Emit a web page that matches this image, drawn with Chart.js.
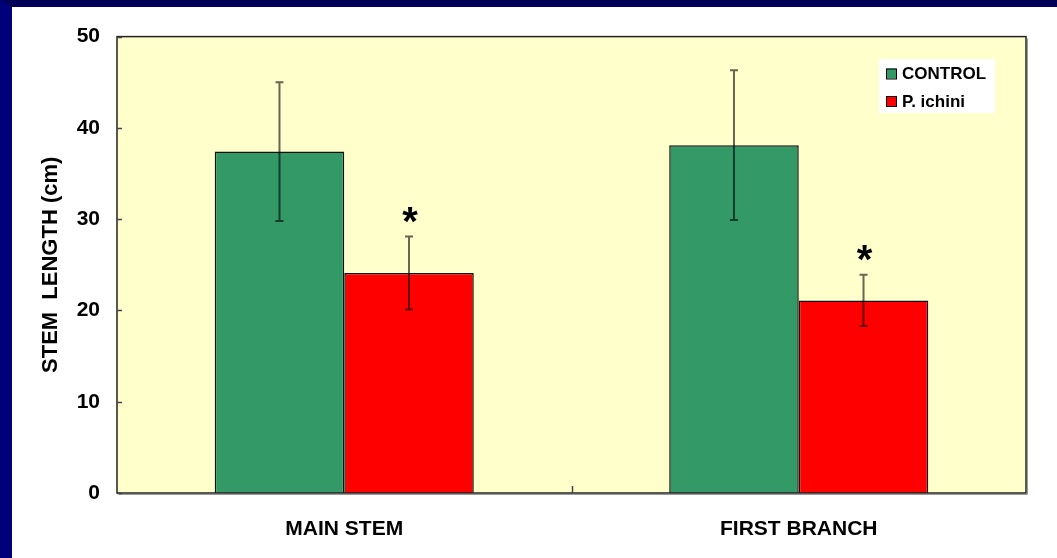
<!DOCTYPE html>
<html>
<head>
<meta charset="utf-8">
<script src="https://cdn.jsdelivr.net/npm/chart.js@4.4.0/dist/chart.umd.min.js"></script>
<style>
  body { margin: 0; background: #fff; }
  #frame {
    position: absolute; left: 0; top: 0;
    width: 1057px; height: 558px; box-sizing: border-box;
    border-top: 7px solid #000058; border-left: 12px solid #000078;
    background: #fff;
  }
  canvas { display: block; }
</style>
</head>
<body>
<div id="frame"><canvas id="stem-chart" width="1045" height="551"></canvas></div>
<script>
const categories = ['MAIN STEM', 'FIRST BRANCH'];
const seriesNames = ['CONTROL', 'P. ichini'];
const controlMeans = [37.4, 38.1];
const controlErrors = [7.6, 8.2];
const ichiniMeans = [24.1, 21.1];
const ichiniErrors = [4.0, 2.8];
const ichiniMarks = ['*', '*'];
const yTicks = [0, 10, 20, 30, 40, 50];

const FONT = '"Liberation Sans", Arial, sans-serif';

// plot background, frame, inside tick marks, error bars, asterisks and legend
const decorations = {
  id: 'decorations',
  beforeDatasetsDraw(chart) {
    const { ctx, chartArea: a } = chart;
    ctx.save();
    ctx.fillStyle = '#FFFFCC';
    ctx.fillRect(a.left, a.top, a.right - a.left, a.bottom - a.top);
    ctx.restore();
  },
  afterDatasetsDraw(chart) {
    const { ctx, chartArea: a, scales } = chart;
    const y = scales.y, x = scales.x;
    ctx.save();

    // error bars
    chart.data.datasets.forEach((ds, i) => {
      const meta = chart.getDatasetMeta(i);
      meta.data.forEach((bar, j) => {
        const top = y.getPixelForValue(ds.data[j] + ds.errors[j]);
        const bot = y.getPixelForValue(ds.data[j] - ds.errors[j]);
        ctx.strokeStyle = 'rgba(0,0,0,0.6)';
        ctx.lineWidth = 2;
        ctx.beginPath();
        ctx.moveTo(bar.x, top); ctx.lineTo(bar.x, bot);
        ctx.moveTo(bar.x - 4, top); ctx.lineTo(bar.x + 4, top);
        ctx.moveTo(bar.x - 4, bot); ctx.lineTo(bar.x + 4, bot);
        ctx.stroke();
        if (ds.marks && ds.marks[j]) {
          ctx.fillStyle = '#000';
          ctx.font = 'bold 40px ' + FONT;
          ctx.textAlign = 'center';
          ctx.textBaseline = 'alphabetic';
          const m = ctx.measureText(ds.marks[j]);
          const cy = top - 22;
          ctx.fillText(ds.marks[j], bar.x + 1,
            cy + (m.actualBoundingBoxAscent - m.actualBoundingBoxDescent) / 2);
        }
      });
    });

    // frame with light shadow
    ctx.strokeStyle = '#999';
    ctx.lineWidth = 1;
    ctx.beginPath();
    ctx.moveTo(a.right + 1.5, a.top + 2); ctx.lineTo(a.right + 1.5, a.bottom + 1.5);
    ctx.lineTo(a.left + 2, a.bottom + 1.5);
    ctx.stroke();
    ctx.strokeStyle = '#222';
    ctx.lineWidth = 1.5;
    ctx.strokeRect(a.left, a.top, a.right - a.left, a.bottom - a.top);

    // inside ticks
    ctx.strokeStyle = '#444';
    ctx.lineWidth = 1.5;
    ctx.beginPath();
    yTicks.forEach(v => {
      const py = Math.round(y.getPixelForValue(v)) + 0.5;
      ctx.moveTo(a.left, py); ctx.lineTo(a.left + 5, py);
    });
    for (let k = 1; k < categories.length; k++) {
      const px = Math.round((x.getPixelForValue(k - 1) + x.getPixelForValue(k)) / 2) + 0.5;
      ctx.moveTo(px, a.bottom); ctx.lineTo(px, a.bottom - 7);
    }
    ctx.stroke();

    // legend
    const lx = 867, ly = 52, lw = 116, lh = 54;
    ctx.fillStyle = '#fff';
    ctx.fillRect(lx, ly, lw, lh);
    ctx.font = 'bold 17px ' + FONT;
    ctx.textAlign = 'left';
    ctx.textBaseline = 'middle';
    chart.data.datasets.forEach((ds, i) => {
      const cy = ly + 14.5 + i * 27.5;
      ctx.fillStyle = ds.backgroundColor;
      ctx.fillRect(lx + 7, cy - 5, 10, 10);
      ctx.strokeStyle = '#000';
      ctx.lineWidth = 1;
      ctx.strokeRect(lx + 7.5, cy - 4.5, 10, 10);
      ctx.fillStyle = '#000';
      ctx.fillText(ds.label, lx + 23, cy + 1);
    });
    ctx.restore();
  }
};

const ctx = document.getElementById('stem-chart').getContext('2d');
const stemChart = new Chart(ctx, {
  type: 'bar',
  data: {
    labels: categories,
    datasets: [
      {
        label: seriesNames[0],
        data: controlMeans,
        errors: controlErrors,
        backgroundColor: '#339966',
        borderColor: '#111',
        borderWidth: 1.5
      },
      {
        label: seriesNames[1],
        data: ichiniMeans,
        errors: ichiniErrors,
        marks: ichiniMarks,
        backgroundColor: '#FF0000',
        borderColor: '#111',
        borderWidth: 1.5
      }
    ]
  },
  options: {
    responsive: false,
    animation: false,
    devicePixelRatio: 1,
    categoryPercentage: 0.57,
    barPercentage: 1.0,
    layout: { padding: { left: 0, right: 31, top: 28, bottom: 0 } },
    plugins: {
      legend: { display: false },
      tooltip: { enabled: false }
    },
    scales: {
      x: {
        grid: { display: false, drawTicks: false },
        border: { display: false },
        ticks: {
          color: '#000',
          padding: 24,
          font: { family: FONT, size: 21, weight: 'bold' }
        },
        afterFit(scale) { scale.height = 65; }
      },
      y: {
        min: 0,
        max: 50,
        grid: { display: false, drawTicks: false },
        border: { display: false },
        afterBuildTicks(scale) { scale.ticks = yTicks.map(v => ({ value: v })); },
        ticks: {
          color: '#000',
          padding: 17,
          font: { family: FONT, size: 21, weight: 'bold' }
        },
        title: {
          display: true,
          text: 'STEM  LENGTH (cm)',
          color: '#000',
          padding: { top: 26, bottom: 0 },
          font: { family: FONT, size: 22, weight: 'bold' }
        },
        afterFit(scale) { scale.width = 105; }
      }
    }
  },
  plugins: [decorations]
});
</script>
</body>
</html>
